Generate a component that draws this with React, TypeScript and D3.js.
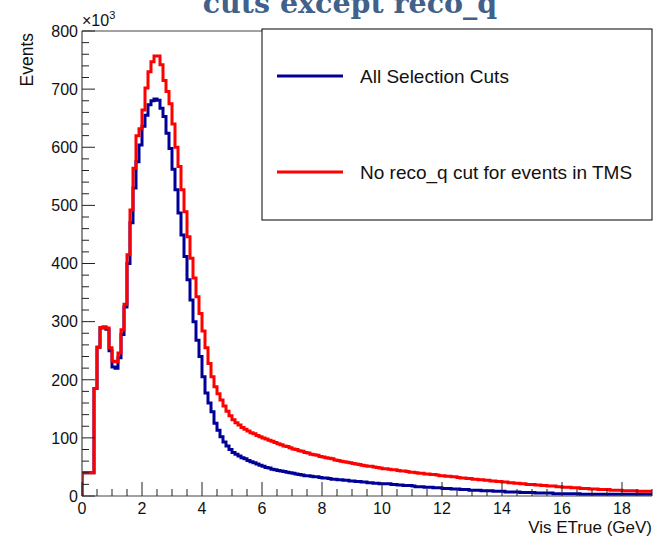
import React from "react";
import * as d3 from "d3";

// Histogram binning: 0.1 GeV bins from 0 to 19 GeV
const binWidth = 0.1;
const xMax = 19;

// Events per bin (x10^3), all selection cuts
const allCuts = [
  40, 40, 40, 40, 185, 256, 289, 290, 287, 250,
  222, 220, 238, 278, 325, 400, 470, 530, 575, 604,
  636, 655, 673, 680, 683, 681, 667, 653, 624, 598,
  562, 527, 487, 449, 412, 372, 337, 300, 268, 240,
  205, 177, 160, 145, 125, 113, 102, 93, 86, 80,
  75, 72, 69, 66, 64, 61, 59, 57, 55, 53,
  51, 49, 48, 46, 45, 44, 43, 42, 41, 40,
  39, 38, 37, 36, 35, 35, 34, 33, 33, 32,
  31, 31, 30, 29, 29, 28, 28, 27, 27, 26,
  26, 25, 25, 24, 24, 23, 23, 22, 22, 21,
  21, 21, 21, 20, 20, 19, 19, 18, 18, 18,
  17, 16, 16, 16, 15, 15, 15, 14, 14, 14,
  13, 13, 13, 12, 12, 12, 11, 11, 11, 10,
  10, 10, 10, 9, 9, 9, 9, 8, 8, 8,
  8, 7, 7, 7, 7, 7, 6, 6, 6, 6,
  6, 5, 5, 5, 5, 5, 5, 4, 4, 4,
  4, 4, 4, 4, 4, 4, 3, 3, 3, 3,
  3, 3, 3, 3, 3, 3, 3, 3, 3, 3,
  3, 3, 3, 3, 3, 3, 3, 3, 3, 3,
];

// Events per bin (x10^3), without the reco_q cut for events in TMS
const noRecoQ = [
  40, 40, 40, 40, 185, 256, 290, 291, 289, 255,
  232, 231, 246, 286, 330, 415, 492, 564, 620, 632,
  664, 702, 730, 747, 757, 757, 742, 715, 696, 675,
  640, 600, 567, 527, 489, 446, 409, 375, 343, 314,
  284, 255, 228, 205, 188, 176, 165, 155, 146, 138,
  131, 126, 122, 118, 115, 112, 109, 107, 104, 102,
  100, 98, 96, 94, 92, 90, 88, 86, 85, 83,
  81, 80, 78, 77, 75, 74, 72, 71, 70, 68,
  67, 66, 65, 64, 62, 61, 60, 59, 58, 57,
  56, 55, 54, 53, 52, 51, 51, 50, 49, 48,
  47, 47, 46, 45, 45, 44, 43, 43, 42, 41,
  41, 40, 39, 39, 38, 38, 37, 37, 36, 35,
  35, 34, 34, 33, 33, 32, 31, 31, 30, 30,
  29, 29, 28, 28, 27, 27, 26, 26, 25, 25,
  24, 24, 23, 23, 22, 22, 21, 21, 20, 20,
  20, 19, 19, 18, 18, 17, 17, 17, 16, 16,
  15, 15, 15, 14, 14, 14, 13, 13, 13, 12,
  12, 12, 11, 11, 11, 11, 10, 10, 10, 10,
  9, 9, 9, 9, 9, 8, 8, 8, 8, 8,
];

const xTickLabels = [0, 2, 4, 6, 8, 10, 12, 14, 16, 18];
const yTickLabels = [0, 100, 200, 300, 400, 500, 600, 700, 800];

const legendLabels = ["All Selection Cuts", "No reco_q cut for events in TMS"];
const seriesColors = ["#000099", "#ff0000"];

const W = 653;
const H = 537;
const frame = { left: 82, right: 652, top: 31, bottom: 496 };
const labelFont = "'Liberation Sans', Arial, Helvetica, sans-serif";

function stepPath(values: number[], x: d3.ScaleLinear<number, number>, y: d3.ScaleLinear<number, number>) {
  const pts: [number, number][] = [[x(0), y(0)]];
  values.forEach((v, i) => {
    pts.push([x(i * binWidth), y(v)]);
    pts.push([x((i + 1) * binWidth), y(v)]);
  });
  return d3.line()(pts) || "";
}

export default function App() {
  const x = d3.scaleLinear().domain([0, xMax]).range([frame.left, frame.right]);
  const y = d3.scaleLinear().domain([0, 800]).range([frame.bottom, frame.top]);

  const xMinor = d3.range(0, xMax + 1e-9, 0.5);
  const yMinor = d3.range(0, 800 + 1e-9, 20);

  const legend = { x0: 262, y0: 29, x1: 652, y1: 220 };
  const legendRows = [76, 172];

  return (
    <svg width={W} height={H} style={{ display: "block", position: "absolute", left: 0, top: 0, background: "#fff" }}>
      <rect x={0} y={0} width={W} height={H} fill="#fff" />
      <defs>
        <clipPath id="plotClip">
          <rect x={frame.left} y={0} width={frame.right - frame.left + 2} height={frame.bottom} />
        </clipPath>
      </defs>

      {/* title, partly above the canvas edge */}
      <text
        x={350}
        y={13}
        textAnchor="middle"
        fontFamily="'DejaVu Serif', 'Liberation Serif', serif"
        fontWeight="bold"
        fontSize={28.5}
        fill="#41608a"
      >
        cuts except reco_q
      </text>

      {/* histograms */}
      <g clipPath="url(#plotClip)" fill="none" strokeWidth={3} strokeLinejoin="miter">
        <path d={stepPath(allCuts, x, y)} stroke={seriesColors[0]} />
        <path d={stepPath(noRecoQ, x, y)} stroke={seriesColors[1]} />
      </g>

      {/* frame */}
      <line x1={frame.left} x2={frame.right} y1={frame.top} y2={frame.top} stroke="#444" strokeWidth={1} />
      <line x1={frame.left} x2={frame.left} y1={frame.top} y2={frame.bottom} stroke="#444" strokeWidth={1.2} />
      <line x1={frame.left} x2={frame.right} y1={frame.bottom} y2={frame.bottom} stroke="#444" strokeWidth={1.2} />

      {/* x ticks */}
      {xMinor.map((v) => {
        const major = Math.abs(v / 2 - Math.round(v / 2)) < 1e-6;
        return (
          <line
            key={"xt" + v}
            x1={x(v)}
            x2={x(v)}
            y1={frame.bottom}
            y2={frame.bottom - (major ? 14 : 7)}
            stroke="#222"
            strokeWidth={1}
          />
        );
      })}
      {xTickLabels.map((v) => (
        <text key={"xl" + v} x={x(v)} y={514} textAnchor="middle" fontFamily={labelFont} fontSize={16} fill="#111">
          {v}
        </text>
      ))}
      <text x={frame.right} y={533} textAnchor="end" fontFamily={labelFont} fontSize={17} fill="#111">
        Vis ETrue (GeV)
      </text>

      {/* y ticks */}
      {yMinor.map((v) => {
        const major = v % 100 === 0;
        return (
          <line
            key={"yt" + v}
            x1={frame.left}
            x2={frame.left + (major ? 13 : 7)}
            y1={y(v)}
            y2={y(v)}
            stroke="#222"
            strokeWidth={1}
          />
        );
      })}
      {yTickLabels.map((v) => (
        <text
          key={"yl" + v}
          x={78}
          y={y(v)}
          dy="0.36em"
          textAnchor="end"
          fontFamily={labelFont}
          fontSize={16}
          fill="#111"
        >
          {v}
        </text>
      ))}
      <text x={82} y={26} fontFamily={labelFont} fontSize={16} fill="#111">
        ×10
        <tspan fontSize={11} dy={-7}>
          3
        </tspan>
      </text>
      <text
        transform={`translate(33, 33) rotate(-90)`}
        textAnchor="end"
        fontFamily={labelFont}
        fontSize={17.5}
        fill="#111"
      >
        Events
      </text>

      {/* legend */}
      <rect
        x={legend.x0}
        y={legend.y0}
        width={legend.x1 - legend.x0}
        height={legend.y1 - legend.y0}
        fill="#fff"
        stroke="#000"
        strokeWidth={1}
      />
      {legendLabels.map((lab, i) => (
        <g key={lab}>
          <line x1={277} x2={343} y1={legendRows[i]} y2={legendRows[i]} stroke={seriesColors[i]} strokeWidth={3} />
          <text x={360} y={legendRows[i]} dy="0.36em" fontFamily={labelFont} fontSize={19} fill="#111">
            {lab}
          </text>
        </g>
      ))}
    </svg>
  );
}
